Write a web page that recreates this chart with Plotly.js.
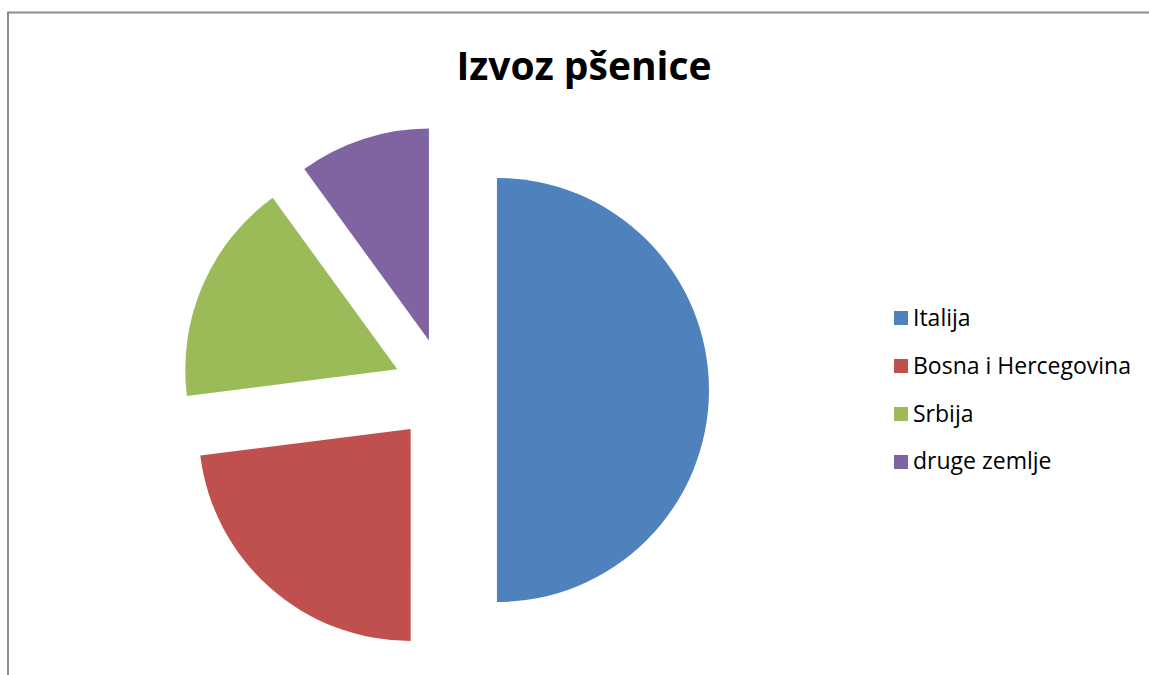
<!DOCTYPE html>
<html>
<head>
<meta charset="utf-8">
<script src="https://cdn.plot.ly/plotly-3.0.1.min.js"></script>
<style>html,body{margin:0;padding:0;background:#fff;}#chart{width:1149px;height:675px;}</style>
</head>
<body>
<div id="chart"></div>
<script>
const titleText = "Izvoz pšenice";
const labels = ["Italija", "Bosna i Hercegovina", "Srbija", "druge zemlje"];
const values = [50, 23, 17, 10];
const colors = ["#4F81BD", "#C0504D", "#9BBB59", "#8064A2"];

const W = 1149, H = 675;
const px = x => x / W;
const py = y => 1 - y / H;

const trace = {
  type: "pie",
  labels: labels,
  values: values,
  marker: {colors: colors, line: {width: 0}},
  sort: false,
  direction: "clockwise",
  rotation: 0,
  pull: [0.245, 0.245, 0.245, 0.245],
  textinfo: "none",
  hoverinfo: "label+value",
  showlegend: false,
  domain: {x: [px(181), px(709)], y: [py(654), py(126)]}
};

const shapes = [{
  type: "rect", xref: "paper", yref: "paper",
  x0: px(8), x1: 1.2, y0: -0.2, y1: py(12.5),
  line: {color: "#8c8c8c", width: 2}, fillcolor: "rgba(0,0,0,0)"
}];
const annotations = [];
labels.forEach((lab, i) => {
  const cy = 318 + i * 48;
  shapes.push({
    type: "rect", xref: "paper", yref: "paper",
    x0: px(894), x1: px(908), y0: py(cy + 7), y1: py(cy - 7),
    line: {width: 0}, fillcolor: colors[i]
  });
  annotations.push({
    xref: "paper", yref: "paper", x: px(911), y: py(cy - 1.5),
    xanchor: "left", yanchor: "middle", showarrow: false,
    text: lab, font: {family: "'Open Sans', sans-serif", size: 23, color: "#000"}
  });
});

const layout = {
  width: W, height: H,
  margin: {l: 0, r: 0, t: 0, b: 0},
  paper_bgcolor: "#fff",
  showlegend: false,
  title: {
    text: "<b>" + titleText + "</b>",
    x: px(584), xanchor: "center", y: py(66), yanchor: "middle",
    font: {family: "'Open Sans', sans-serif", size: 39, color: "#000"}
  },
  shapes: shapes,
  annotations: annotations
};

Plotly.newPlot("chart", [trace], layout, {displayModeBar: false, staticPlot: true});
</script>
</body>
</html>
